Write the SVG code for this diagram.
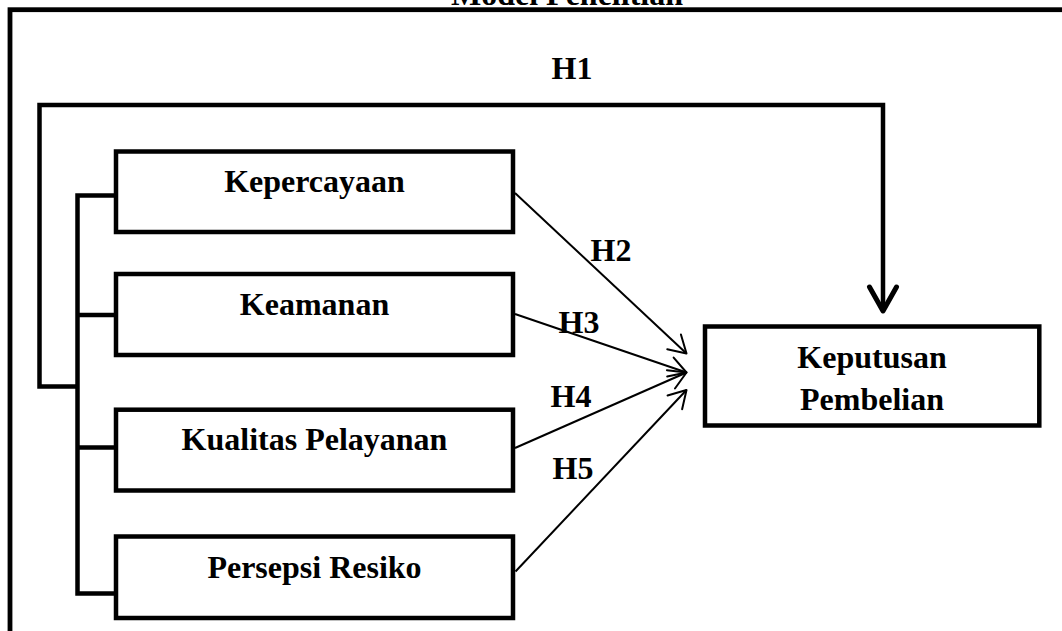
<svg xmlns="http://www.w3.org/2000/svg" width="1062" height="631" viewBox="0 0 1062 631">
  <style>
    .box { fill: #ffffff; stroke: #000000; stroke-width: 4.5; }
    .lbl { font-family: "Liberation Serif", "Times New Roman", serif; font-weight: bold; font-size: 32px; fill: #000000; text-anchor: middle; }
    .thick { fill: none; stroke: #000000; stroke-width: 4.5; stroke-linejoin: miter; }
    .thin { fill: none; stroke: #000000; stroke-width: 2; }
  </style>
  <defs>
    <marker id="openThin" markerUnits="userSpaceOnUse" orient="auto" refX="0" refY="0" markerWidth="40" markerHeight="40" viewBox="-30 -20 40 40" overflow="visible">
      <path d="M-17,-10 L0,0 L-17,10" fill="none" stroke="#000000" stroke-width="2" stroke-linecap="round" stroke-linejoin="round"/>
    </marker>
    <marker id="openThick" markerUnits="userSpaceOnUse" orient="auto" refX="0" refY="0" markerWidth="60" markerHeight="60" viewBox="-40 -30 60 60" overflow="visible">
      <path d="M-24,-13.5 L0,0 L-24,13.5" fill="none" stroke="#000000" stroke-width="5" stroke-linecap="round" stroke-linejoin="round"/>
    </marker>
  </defs>
  <rect x="0" y="0" width="1062" height="631" fill="#ffffff"/>

  <g id="frame">
    <rect x="10" y="9.7" width="1200" height="800" fill="none" stroke="#000000" stroke-width="4.8"/>
    <text class="lbl" x="567" y="5">Model Penelitian</text>
  </g>

  <g id="connectors">
    <!-- bus -->
    <path class="thick" d="M116,195.5 L77.5,195.5 L77.5,593.5 L116,593.5"/>
    <path class="thick" d="M77.5,315 L116,315"/>
    <path class="thick" d="M77.5,447.5 L116,447.5"/>
    <!-- H1 loop -->
    <path class="thick" d="M77.5,386.5 L39.5,386.5 L39.5,105 L883,105 L883,311" marker-end="url(#openThick)"/>
    <!-- H2..H5 -->
    <path class="thin" d="M515,193 L686.5,353.5" marker-end="url(#openThin)"/>
    <path class="thin" d="M515,314 L686.5,372.5" marker-end="url(#openThin)"/>
    <path class="thin" d="M515,448 L686.5,372.5" marker-end="url(#openThin)"/>
    <path class="thin" d="M515.5,571.5 L686.5,390" marker-end="url(#openThin)"/>
    <text class="lbl" x="572" y="79">H1</text>
    <text class="lbl" x="611" y="261">H2</text>
    <text class="lbl" x="579" y="333">H3</text>
    <text class="lbl" x="571" y="407">H4</text>
    <text class="lbl" x="573" y="479">H5</text>
  </g>

  <g id="node-kepercayaan">
    <rect class="box" x="116" y="151.5" width="397" height="80.5"/>
    <text class="lbl" x="314.5" y="192">Kepercayaan</text>
  </g>
  <g id="node-keamanan">
    <rect class="box" x="116" y="274" width="397" height="81"/>
    <text class="lbl" x="314.5" y="315">Keamanan</text>
  </g>
  <g id="node-kualitas">
    <rect class="box" x="116" y="409.7" width="397" height="80.8"/>
    <text class="lbl" x="314.5" y="450">Kualitas Pelayanan</text>
  </g>
  <g id="node-persepsi">
    <rect class="box" x="116" y="536.5" width="397" height="81.5"/>
    <text class="lbl" x="314.5" y="578">Persepsi Resiko</text>
  </g>
  <g id="node-keputusan">
    <rect class="box" x="705" y="326.5" width="334.3" height="99"/>
    <text class="lbl" x="872" y="368">Keputusan</text>
    <text class="lbl" x="872" y="410">Pembelian</text>
  </g>
</svg>
